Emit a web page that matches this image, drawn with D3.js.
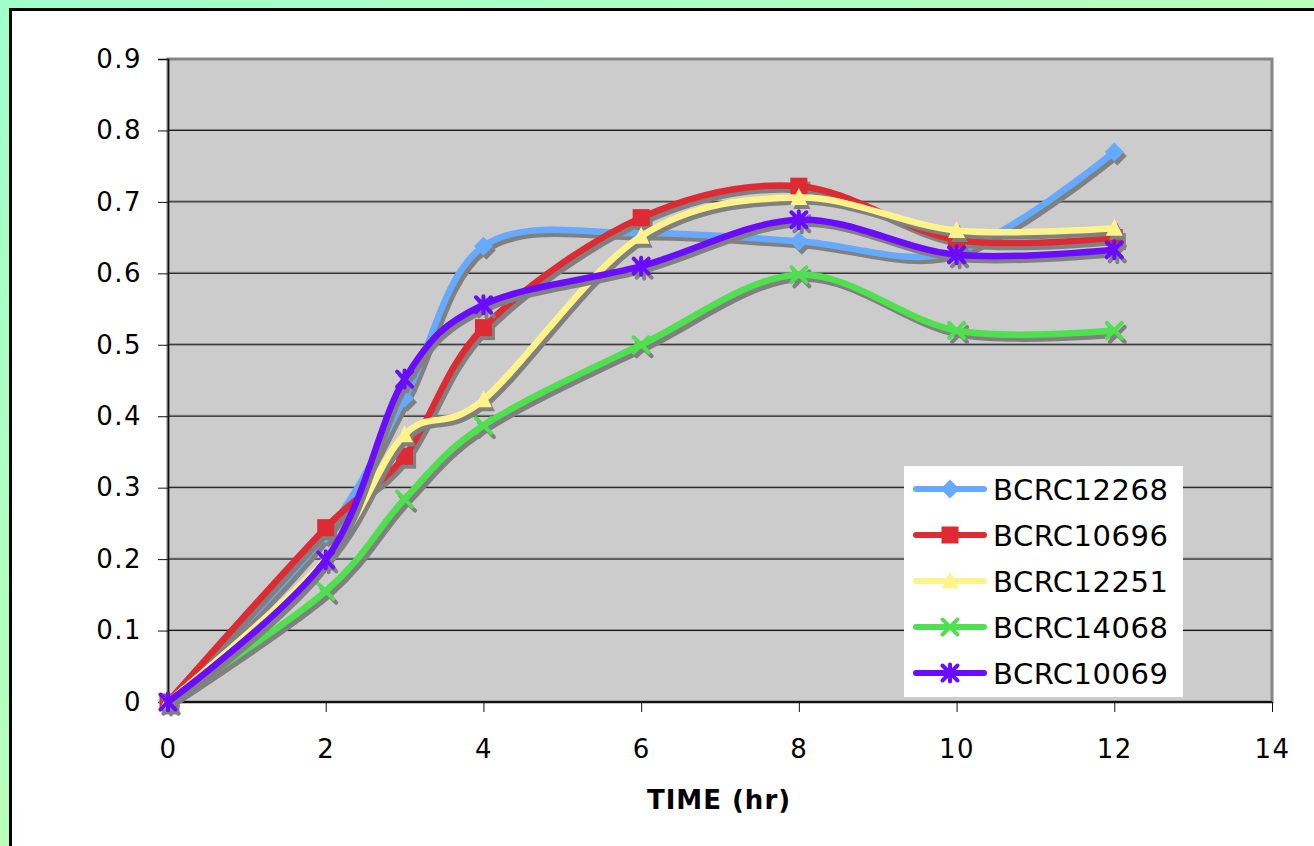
<!DOCTYPE html>
<html>
	<head>
		<title>Growth curves</title>
		<script src="https://cdn.jsdelivr.net/npm/d3@7/dist/d3.min.js"></script>
		<style type="text/css">
			body {
				margin: 0;
				overflow: hidden;
			}
			text {
				font-family: "DejaVu Sans", Verdana, sans-serif;
			}
		</style>
	</head>
	<body>
		<script type="text/javascript">
			var w = 1314;
			var h = 846;

			// hours sampled
			var hours = [0, 2, 3, 4, 6, 8, 10, 12];

			var names = ["BCRC12268", "BCRC10696", "BCRC12251", "BCRC14068", "BCRC10069"];
			var colors = ["#66aaff", "#dd2a33", "#fff38a", "#4ee04e", "#6a0cff"];
			var shapes = ["diamond", "square", "triangle", "cross", "star"];

			var bcrc12268 = [0, 0.235, 0.425, 0.638, 0.656, 0.645, 0.63, 0.77];
			var bcrc10696 = [0, 0.244, 0.344, 0.524, 0.678, 0.722, 0.647, 0.65];
			var bcrc12251 = [0, 0.2, 0.374, 0.423, 0.652, 0.706, 0.66, 0.663];
			var bcrc14068 = [0, 0.155, 0.284, 0.387, 0.5, 0.598, 0.52, 0.52];
			var bcrc10069 = [0, 0.199, 0.452, 0.556, 0.61, 0.675, 0.626, 0.633];
			var values = [bcrc12268, bcrc10696, bcrc12251, bcrc14068, bcrc10069];

			var xTicks = [0, 2, 4, 6, 8, 10, 12, 14];
			var yTicks = [0, 0.1, 0.2, 0.3, 0.4, 0.5, 0.6, 0.7, 0.8, 0.9];

			var pLeft = 168, pRight = 1272, pTop = 59, pBottom = 702;

			var x = d3.scaleLinear().domain([0, 14]).range([pLeft, pRight]);
			var y = d3.scaleLinear().domain([0, 0.9]).range([pBottom, pTop]);

			var svg = d3.select("body")
				.append("svg")
					.attr("width", w)
					.attr("height", h);

			var defs = svg.append("defs");
			var grad = defs.append("linearGradient")
				.attr("id", "bg")
				.attr("x1", "0%").attr("y1", "0%")
				.attr("x2", "100%").attr("y2", "100%");
			grad.append("stop").attr("offset", "0%").attr("stop-color", "#9fffcb");
			grad.append("stop").attr("offset", "100%").attr("stop-color", "#d4ffaa");

			svg.append("rect")
				.attr("width", w)
				.attr("height", h)
				.attr("fill", "url(#bg)");

			// white panel, runs off the right and bottom edges
			svg.append("rect")
				.attr("x", 10.5)
				.attr("y", 9.5)
				.attr("width", w + 20)
				.attr("height", h + 20)
				.attr("fill", "#fff")
				.attr("stroke", "#000")
				.attr("stroke-width", 3);

			// plot area
			svg.append("rect")
				.attr("x", pLeft)
				.attr("y", pTop)
				.attr("width", pRight - pLeft)
				.attr("height", pBottom - pTop)
				.attr("fill", "#cccccc")
				.attr("stroke", "#868686")
				.attr("stroke-width", 3);

			// grid
			svg.append("g")
				.selectAll("line.g1")
				.data(yTicks.slice(1, -1))
				.enter().append("line")
					.attr("x1", pLeft).attr("x2", pRight)
					.attr("y1", function (d) { return y(d) - 1; })
					.attr("y2", function (d) { return y(d) - 1; })
					.attr("stroke", "#888")
					.attr("stroke-width", 1);
			svg.append("g")
				.selectAll("line.g2")
				.data(yTicks.slice(1, -1))
				.enter().append("line")
					.attr("x1", pLeft).attr("x2", pRight)
					.attr("y1", function (d) { return y(d); })
					.attr("y2", function (d) { return y(d); })
					.attr("stroke", "#111")
					.attr("stroke-width", 1);

			var yAxis = svg.append("g")
				.attr("transform", "translate(" + pLeft + ",0)")
				.call(d3.axisLeft(y).tickValues(yTicks).tickSize(10).tickPadding(16)
					.tickFormat(function (d) { return d === 0 ? "0" : d3.format(".1f")(d); }));
			var xAxis = svg.append("g")
				.attr("transform", "translate(0," + pBottom + ")")
				.call(d3.axisBottom(x).tickValues(xTicks).tickSize(10).tickPadding(28)
					.tickFormat(d3.format("d")));

			[yAxis, xAxis].forEach(function (a) {
				a.select(".domain").attr("stroke", "#111").attr("stroke-width", 1.5);
				a.selectAll(".tick line").attr("stroke", "#111");
				a.selectAll("text")
					.attr("fill", "#000")
					.style("font-size", "26px")
					.style("letter-spacing", "1.5px");
			});
			xAxis.select(".domain").remove();
			svg.append("line")
				.attr("x1", pLeft).attr("x2", pRight)
				.attr("y1", pBottom).attr("y2", pBottom)
				.attr("stroke", "#111").attr("stroke-width", 2);

			svg.append("text")
				.attr("x", 719)
				.attr("y", 809)
				.attr("text-anchor", "middle")
				.style("font-size", "26px")
				.style("font-weight", "bold")
				.style("letter-spacing", "1px")
				.text("TIME (hr)");

			var line = d3.line()
				.x(function (d) { return x(d[0]); })
				.y(function (d) { return y(d[1]); })
				.curve(d3.curveCatmullRom.alpha(0));

			var marker = function (g, shape, color, s) {
				var r = s / 2;
				if (shape === "diamond") {
					g.append("path").attr("d", "M0," + (-r - 1) + "L" + (r + 1) + ",0L0," + (r + 1) + "L" + (-r - 1) + ",0Z").attr("fill", color);
				} else if (shape === "square") {
					g.append("rect").attr("x", -r).attr("y", -r).attr("width", s).attr("height", s).attr("fill", color);
				} else if (shape === "triangle") {
					g.append("path").attr("d", "M0," + (-r - 1) + "L" + r + "," + (r - 1) + "L" + (-r) + "," + (r - 1) + "Z").attr("fill", color);
				} else if (shape === "cross") {
					g.append("path").attr("d", "M" + (-r + 1) + "," + (-r + 1) + "L" + (r - 1) + "," + (r - 1) + "M" + (r - 1) + "," + (-r + 1) + "L" + (-r + 1) + "," + (r - 1))
						.attr("stroke", color).attr("stroke-width", 4).attr("stroke-linecap", "round");
				} else {
					g.append("path").attr("d", "M" + (-r + 1) + "," + (-r + 1) + "L" + (r - 1) + "," + (r - 1) + "M" + (r - 1) + "," + (-r + 1) + "L" + (-r + 1) + "," + (r - 1) + "M0," + (-r) + "L0," + r)
						.attr("stroke", color).attr("stroke-width", 4).attr("stroke-linecap", "round");
				}
			};

			var plot = svg.append("g");
			values.forEach(function (vals, i) {
				var pts = hours.map(function (hr, j) { return [hr, vals[j]]; });
				var sg = plot.append("g");
				[["#808080", 3, 4], [colors[i], 0, 0]].forEach(function (layer) {
					var lg = sg.append("g").attr("transform", "translate(" + layer[1] + "," + layer[2] + ")");
					lg.append("path")
						.attr("d", line(pts))
						.attr("fill", "none")
						.attr("stroke", layer[0])
						.attr("stroke-width", 6.5)
						.attr("stroke-linejoin", "round")
						.attr("stroke-linecap", "round");
					pts.forEach(function (p) {
						var mg = lg.append("g").attr("transform", "translate(" + x(p[0]) + "," + y(p[1]) + ")");
						marker(mg, shapes[i], layer[0], 17);
					});
				});
			});

			// legend
			var legend = svg.append("g");
			legend.append("rect")
				.attr("x", 904).attr("y", 466)
				.attr("width", 279).attr("height", 231)
				.attr("fill", "#fff");
			names.forEach(function (n, i) {
				var ly = 489 + i * 46;
				var row = legend.append("g");
				row.append("line")
					.attr("x1", 916).attr("x2", 984)
					.attr("y1", ly).attr("y2", ly)
					.attr("stroke", colors[i])
					.attr("stroke-width", 6)
					.attr("stroke-linecap", "round");
				marker(row.append("g").attr("transform", "translate(950," + ly + ")"), shapes[i], colors[i], 17);
				row.append("text")
					.attr("x", 993)
					.attr("y", ly + 11)
					.style("font-size", "29px")
					.style("letter-spacing", "0.5px")
					.text(n);
			});
		</script>
	</body>
</html>
